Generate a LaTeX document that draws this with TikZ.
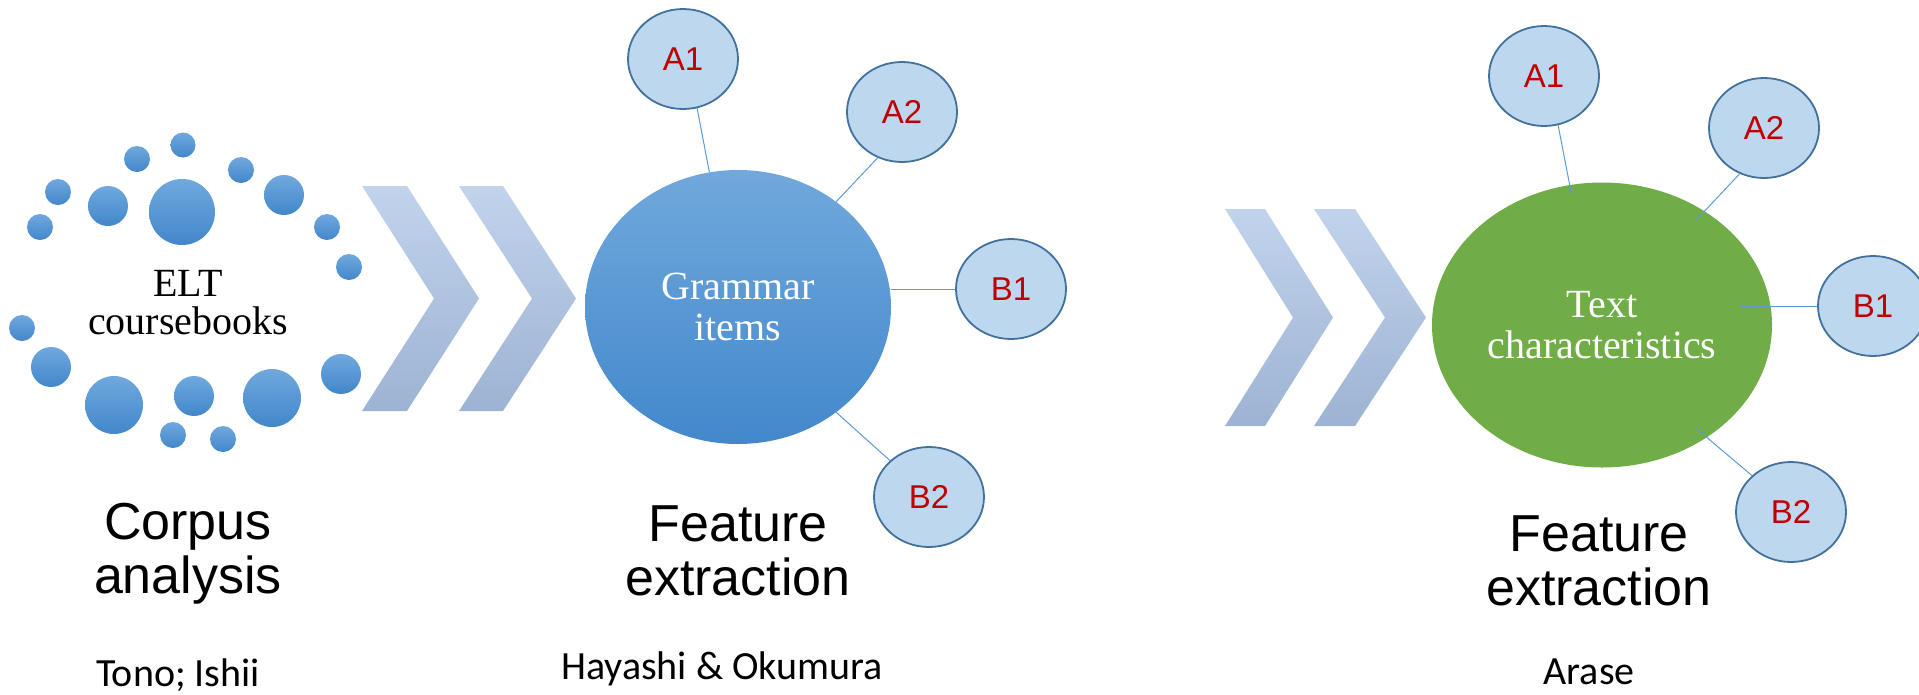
\documentclass[tikz,border=0pt]{standalone}
\usepackage{fontspec}
\setmainfont{Liberation Serif}
\newfontfamily\headfont{Liberation Sans}
\newfontfamily\namefont{Carlito}
\usetikzlibrary{shapes.geometric}
\definecolor{dottop}{RGB}{112,168,222}
\definecolor{dotbot}{RGB}{66,135,202}
\definecolor{chevtop}{RGB}{194,211,236}
\definecolor{chevbot}{RGB}{156,179,211}
\definecolor{gramtop}{RGB}{113,168,221}
\definecolor{grambot}{RGB}{66,136,203}
\definecolor{textgreen}{RGB}{112,173,71}
\definecolor{cefrfill}{RGB}{189,215,238}
\definecolor{cefrdraw}{RGB}{65,113,156}
\definecolor{linkblue}{RGB}{91,155,213}
\definecolor{cefrred}{RGB}{192,0,0}
\tikzset {
  % small bubble round the coursebooks
  bubble/.style = {
    circle,
    inner sep = 0,
    minimum size = #1,
    top color = dottop,
    bottom color = dotbot
  },
  chevron/.style = {
    top color = chevtop,
    bottom color = chevbot
  },
  % big bubble of a group
  hub/.style = {
    ellipse,
    inner sep = 0,
    align = center,
    text = white,
    font = \fontsize{40}{41}\selectfont
  },
  % level bubble
  cefr/.style = {
    ellipse,
    draw = cefrdraw,
    line width = 1.8pt,
    fill = cefrfill,
    minimum width = 110pt,
    minimum height = 100pt,
    text = cefrred,
    font = \headfont\fontsize{33}{33}\selectfont
  },
  link/.style = {
    draw = linkblue,
    line width = 1pt
  }
}
\tikzset {
  heading/.style = {
    align = center,
    font = \headfont\fontsize{52}{54}\selectfont
  },
  author/.style = {
    anchor = base,
    inner sep = 0,
    font = \namefont\fontsize{40}{40}\selectfont
  }
}

\begin{document}
\begin{tikzpicture}[x=1pt, y=-1pt]
    \useasboundingbox (0,0) rectangle (1919,694);

    \foreach \x/\y/\d [count=\i] in {183/145/25, 137/159/26, 241/170/26,
        58/192/26, 108/206/40, 182/212/66, 284/195/40, 40/227/26, 327/227/26,
        349/267/26, 22/328/26, 51/367/40, 114/405/58, 194/396/40, 272/398/58,
        341/374/40, 173/435/26, 223/439/26}
      \node[bubble=\d pt] (dot\i) at (\x,\y) {};
    \node[align=center, font=\fontsize{40}{38}\selectfont] (elt) at (188,303)
      {ELT\\coursebooks};

    \foreach \x/\y/\a/\t/\h in {362/186/45/117/225, 459/186/44/117/225,
        1225/209/40/108/217, 1314/209/41/112/217}
      \shade[chevron] (\x,\y) -- ++(\a,0) -- (\x+\t,\y+\h/2)
        -- (\x+\a,\y+\h) -- (\x,\y+\h) -- (\x+\t-\a,\y+\h/2) -- cycle;

    \node[hub, minimum width=306pt, minimum height=274pt,
      top color=gramtop, bottom color=grambot] (grammar) at (738,307)
      {Grammar\\items};
    \node[cefr] (ga1) at (683,59) {A1};
    \node[cefr] (ga2) at (902,112) {A2};
    \node[cefr] (gb1) at (1011,289) {B1};
    \node[cefr] (gb2) at (929,497) {B2};

    \draw[link] (ga1.286) -- (grammar.102);
    \draw[link] (ga2.242) -- (grammar.47);
    \draw[link] (gb1.west) -- (gb1.west -| grammar.east);
    \draw[link] (gb2.137) -- (grammar.313);

    \node[hub, minimum width=340pt, minimum height=285pt,
      fill=textgreen] (text) at (1602,325) {Text\\characteristics};
    \node[cefr] (ta1) at (1544,76) {A1};
    \node[cefr] (ta2) at (1764,128) {A2};
    \node[cefr] (tb1) at (1873,306) {B1};
    \node[cefr] (tb2) at (1791,512) {B2};

    \draw[link, shorten >=-9pt] (ta1.286) -- (text.103);
    \draw[link, shorten >=-13pt] (ta2.242) -- (text.48);
    \draw[link] (tb1.west) -- ([xshift=-32pt]tb1.west -| text.east);
    \draw[link, shorten >=-15pt] (tb2.137) -- (text.313);

    \node[heading] (corpus) at (188,554) {Corpus\\analysis};
    \node[heading] (gfeature) at (738,551) {Feature\\extraction};
    \node[heading] (tfeature) at (1599,561) {Feature\\extraction};

    \node[author] (tono) at (178,686) {Tono; Ishii};
    \node[author] (hayashi) at (722,679) {Hayashi \& Okumura};
    \node[author] (arase) at (1589,684) {Arase};
\end{tikzpicture}
\end{document}
